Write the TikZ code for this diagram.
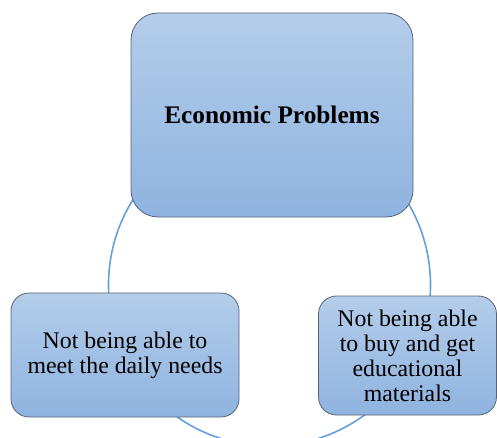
\documentclass[tikz,border=0pt]{standalone}
\usepackage{fontspec}
\setmainfont{Liberation Serif}
\definecolor{boxtop}{RGB}{180,205,234}
\definecolor{boxbot}{RGB}{143,179,224}
\definecolor{boxborder}{RGB}{88,100,118}
\definecolor{ringblue}{RGB}{100,160,218}
\begin{document}
\begin{tikzpicture}[x=1pt,y=-1pt,
  box/.style={draw=boxborder, line width=0.8pt, top color=boxtop, bottom color=boxbot,
    rectangle, align=center, inner sep=0pt, text=black,
    font=\fontsize{23.8}{25}\selectfont},
  ring/.style={draw=ringblue, line width=1.6pt}]
\useasboundingbox (0,0) rectangle (497,438);
\coordinate (ringc) at (269.5,285);
\begin{scope}
  \clip (0,0) rectangle (497,438);
  \draw[ring] (ringc) circle (161pt);
\end{scope}
\node[box, rounded corners=27pt, minimum width=282pt, minimum height=204pt,
  font=\fontsize{25.3}{29}\selectfont\bfseries] (econ) at (272,115) {Economic Problems};
\node[box, rounded corners=18pt, minimum width=228pt, minimum height=124pt]
  (daily) at (125,355) {Not being able to\\meet the daily needs};
\node[box, rounded corners=18pt, minimum width=178pt, minimum height=119pt]
  (edu) at (407.5,355.5) {Not being able\\to buy and get\\educational\\materials};
\end{tikzpicture}
\end{document}
